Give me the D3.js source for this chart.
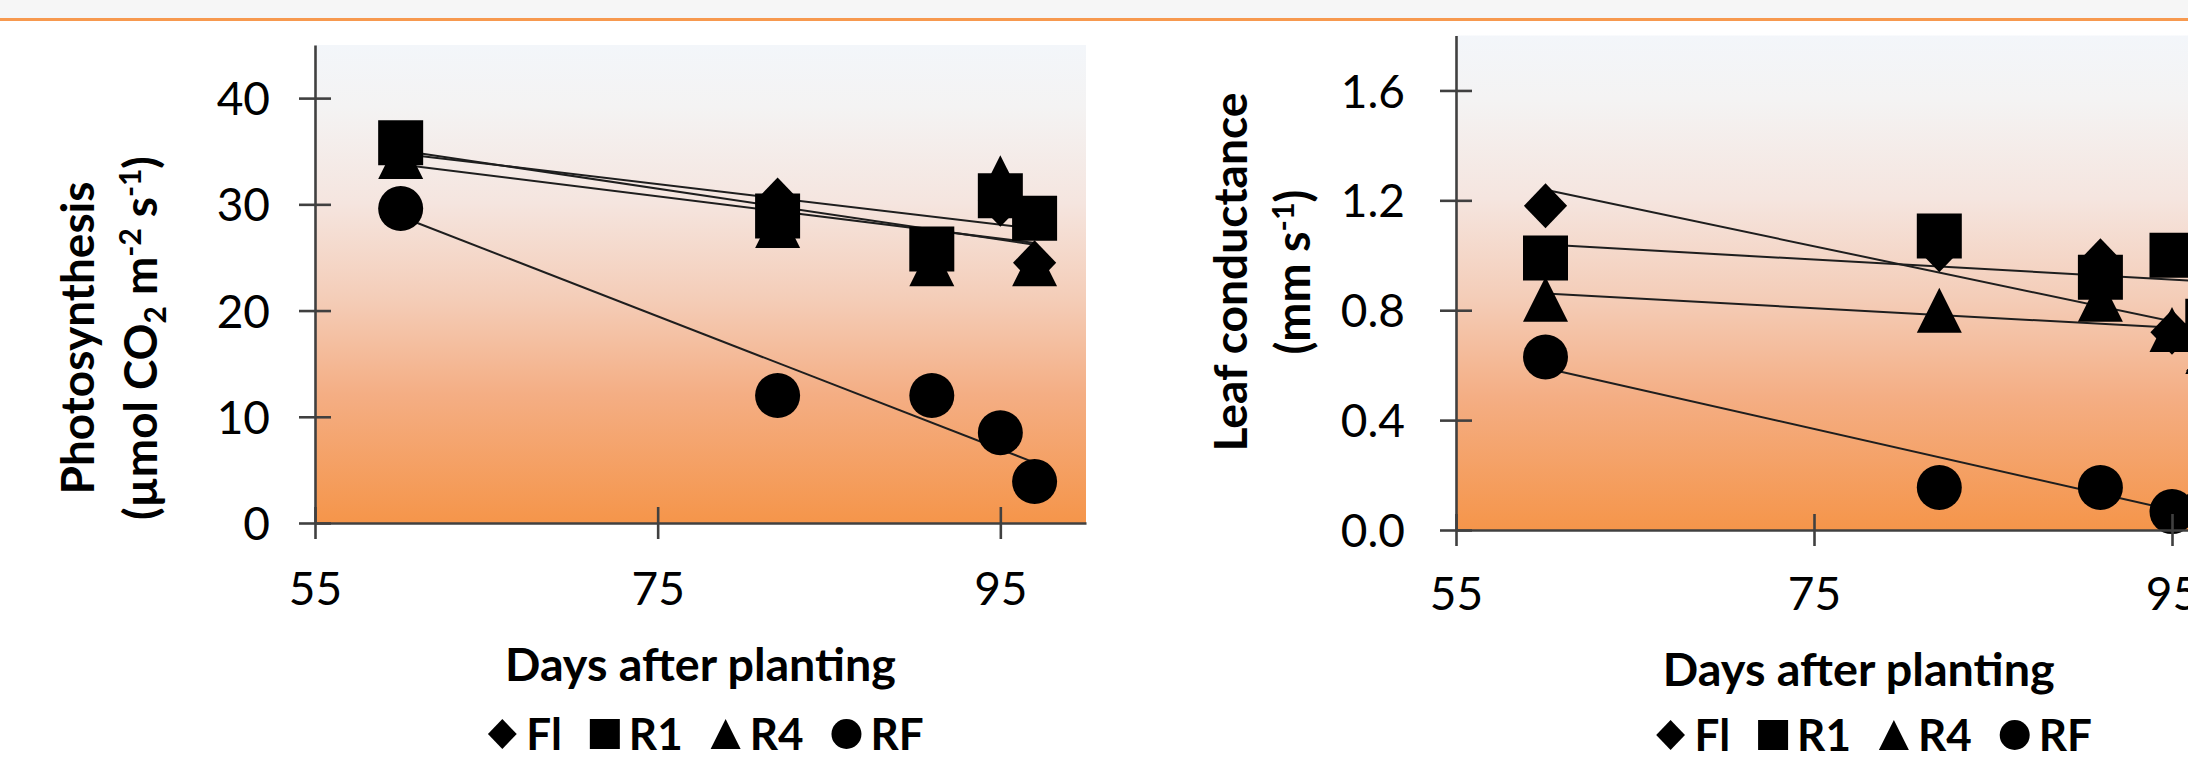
<!DOCTYPE html>
<html><head><meta charset="utf-8">
<script src="https://cdn.jsdelivr.net/npm/d3@7"></script>
<style>html,body{margin:0;padding:0;background:#fff;overflow:hidden}</style>
</head><body>
<svg id="c" width="2188" height="761" xmlns="http://www.w3.org/2000/svg"></svg>
<script>
// ---------- data ----------
const days = [60, 82, 91, 95, 97];
const seriesNames = ["Fl", "R1", "R4", "RF"];
const seriesShapes = ["diamond", "square", "triangle", "circle"];

const photoFl = [35.0, 30.4, 25.5, 30.0, 24.5];
const photoR1 = [35.8, 28.9, 25.8, 30.8, 28.7];
const photoR4 = [34.5, 28.0, 24.4, 32.5, 24.4];
const photoRF = [29.6, 12.0, 12.0, 8.5, 3.9];

const condFl = [1.18, 1.02, 0.98, 0.72, 0.58];
const condR1 = [0.99, 1.07, 0.92, 1.00, 0.76];
const condR4 = [0.84, 0.80, 0.84, 0.73, 0.65];
const condRF = [0.63, 0.155, 0.155, 0.067, 0.095];

const xTicks = [55, 75, 95];
const photoTicks = [0, 10, 20, 30, 40];
const condTicks = [0, 0.4, 0.8, 1.2, 1.6];

const xTitle = "Days after planting";

// ---------- setup ----------
const svg = d3.select("#c");
const FONT = "Lato, 'Open Sans', sans-serif";
const AXIS = "#404040";

svg.append("rect").attr("x", 0).attr("y", 0).attr("width", 2188).attr("height", 18).attr("fill", "#f6f6f6");
svg.append("rect").attr("x", 0).attr("y", 18).attr("width", 2188).attr("height", 3).attr("fill", "#f7994f");

const defs = svg.append("defs");
const grad = defs.append("linearGradient").attr("id", "bg").attr("x1", 0).attr("y1", 0).attr("x2", 0).attr("y2", 1);
[[0, "#f3f6fa"], [0.13, "#f4f3f3"], [0.33, "#f5e5df"], [0.53, "#f4cdb8"], [0.73, "#f4ae84"], [1, "#f5954a"]]
  .forEach(([o, c]) => grad.append("stop").attr("offset", o).attr("stop-color", c));

function shapePath(shape, s) {
  const h = s / 2;
  if (shape === "square") return `M${-h},${-h}H${h}V${h}H${-h}Z`;
  if (shape === "diamond") return `M0,${-h}L${h * 0.96},0L0,${h}L${-h * 0.96},0Z`;
  if (shape === "triangle") return `M0,${-h}L${h},${h}L${-h},${h}Z`;
  return d3.arc()({innerRadius: 0, outerRadius: h, startAngle: 0, endAngle: 2 * Math.PI});
}

function regression(xs, ys) {
  const mx = d3.mean(xs), my = d3.mean(ys);
  let sxy = 0, sxx = 0;
  xs.forEach((x, i) => { sxy += (x - mx) * (ys[i] - my); sxx += (x - mx) * (x - mx); });
  const b = sxy / sxx;
  return x => my + b * (x - mx);
}

// builds a bold title text, fitted so that its length matches the target length
function fittedTitle(g, transform, parts, target) {
  function build(F) {
    const t = g.append("text").attr("transform", transform)
      .attr("text-anchor", "middle").attr("font-family", FONT).attr("font-weight", "bold")
      .attr("font-size", F).attr("fill", "#000");
    let shift = 0;
    parts.forEach(p => {
      const sp = t.append("tspan").text(p.t);
      let want = 0;
      if (p.sub) { sp.attr("font-size", F * 0.65); want = F * 0.2; }
      else if (p.sup) { sp.attr("font-size", F * 0.65); want = -F * 0.34; }
      const dy = want - shift;
      if (dy !== 0) sp.attr("dy", dy);
      shift = want;
    });
    return t;
  }
  let t = build(44);
  const w = t.node().getBBox().width;
  const F = Math.max(40, Math.min(54, 44 * target / w));
  t.remove();
  return build(F);
}

function drawChart(cfg) {
  const g = svg.append("g");
  const x = d3.scaleLinear().domain([55, 100]).range(cfg.xRange);
  const y = d3.scaleLinear().domain(cfg.yDomain).range(cfg.yRange);

  g.append("rect")
    .attr("x", x(55)).attr("y", y(cfg.yDomain[1]))
    .attr("width", x(100) - x(55)).attr("height", y(cfg.yDomain[0]) - y(cfg.yDomain[1]))
    .attr("fill", "url(#bg)");

  cfg.series.forEach(vals => {
    const f = regression(days, vals);
    const x0 = d3.min(days), x1 = d3.max(days);
    g.append("line")
      .attr("x1", x(x0)).attr("y1", y(f(x0)))
      .attr("x2", x(x1)).attr("y2", y(f(x1)))
      .attr("stroke", "#1e1e1e").attr("stroke-width", 2);
  });

  cfg.series.forEach((vals, si) => {
    g.append("g").selectAll("path").data(vals).join("path")
      .attr("transform", (d, i) => `translate(${x(days[i])},${y(d)})`)
      .attr("d", shapePath(seriesShapes[si], 45))
      .attr("fill", "#000");
  });

  const ax = g.append("g").attr("transform", `translate(0,${y(0)})`)
    .call(d3.axisBottom(x).tickValues(xTicks).tickSize(0).tickSizeOuter(0).tickFormat(d3.format("d")));
  ax.select(".domain").attr("stroke", AXIS).attr("stroke-width", 2.6);
  ax.selectAll(".tick line").attr("y1", -16).attr("y2", 16).attr("stroke", AXIS).attr("stroke-width", 2.6);
  ax.selectAll(".tick text").attr("y", cfg.xLabelDy).attr("dy", 0)
    .attr("font-family", FONT).attr("font-size", 46).attr("fill", "#000");

  const ay = g.append("g").attr("transform", `translate(${x(55)},0)`)
    .call(d3.axisLeft(y).tickValues(cfg.yTicks).tickSize(0).tickSizeOuter(0).tickFormat(cfg.yFormat));
  ay.select(".domain").attr("stroke", AXIS).attr("stroke-width", 2.6);
  ay.selectAll(".tick line").attr("x1", -16).attr("x2", 16).attr("stroke", AXIS).attr("stroke-width", 2.6);
  ay.selectAll(".tick text").attr("x", cfg.yLabelDx).attr("dy", "0.36em")
    .attr("font-family", FONT).attr("font-size", 46).attr("fill", "#000");

  const cx = (x(55) + x(100)) / 2;
  fittedTitle(g, `translate(${cx},${cfg.xTitleY})`, [{t: xTitle}], cfg.xTitleLen);

  fittedTitle(g, `translate(${cfg.yTitleX[0]},${cfg.yTitleY}) rotate(-90)`, [{t: cfg.yTitle1}], cfg.yTitleLen[0]);
  fittedTitle(g, `translate(${cfg.yTitleX[1]},${cfg.yTitleY}) rotate(-90)`, cfg.yTitle2, cfg.yTitleLen[1]);

  const lg = g.append("g");
  let lx = 0;
  const ms = 30;
  seriesNames.forEach((name, si) => {
    lg.append("path").attr("d", shapePath(seriesShapes[si], ms))
      .attr("transform", `translate(${lx + ms / 2},${-16})`).attr("fill", "#000");
    const tx = lg.append("text").attr("x", lx + ms + 9).attr("y", 0)
      .attr("font-family", FONT).attr("font-weight", "bold").attr("font-size", 44).attr("fill", "#000")
      .text(name);
    const w = tx.node().getComputedTextLength();
    lx += ms + 9 + w + (si < seriesNames.length - 1 ? 28 : 0);
  });
  lg.attr("transform", `translate(${cx + cfg.legendShift - lx / 2},${cfg.legendY})`);
}

drawChart({
  xRange: [315, 1086],
  yDomain: [0, 45], yRange: [523, 45],
  yTicks: photoTicks, yFormat: d3.format("d"),
  series: [photoFl, photoR1, photoR4, photoRF],
  xLabelDy: 82, yLabelDx: -45,
  xTitleY: 681, xTitleLen: 391,
  yTitleX: [94, 157], yTitleY: 338, yTitleLen: [313, 364],
  yTitle1: "Photosynthesis",
  yTitle2: [{t: "(µmol CO"}, {t: "2", sub: true}, {t: " m"}, {t: "-2", sup: true},
            {t: " s"}, {t: "-1", sup: true}, {t: ")"}],
  legendY: 750, legendShift: 5
});

drawChart({
  xRange: [1456, 2261.5],
  yDomain: [0, 1.8], yRange: [530, 35.5],
  yTicks: condTicks, yFormat: d3.format(".1f"),
  series: [condFl, condR1, condR4, condRF],
  xLabelDy: 80, yLabelDx: -51,
  xTitleY: 686, xTitleLen: 392,
  yTitleX: [1247, 1310], yTitleY: 272, yTitleLen: [359, 165],
  yTitle1: "Leaf conductance",
  yTitle2: [{t: "(mm s"}, {t: "-1", sup: true}, {t: ")"}],
  legendY: 751, legendShift: 15
});
</script>
</body></html>
